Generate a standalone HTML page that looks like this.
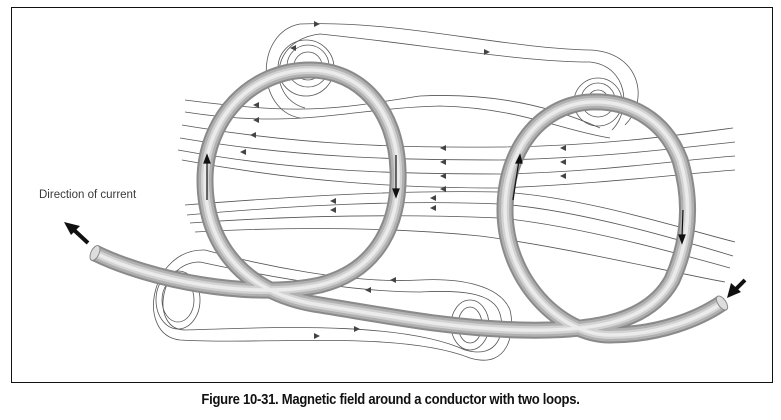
<!DOCTYPE html>
<html><head><meta charset="utf-8"><style>
html,body{margin:0;padding:0;background:#fff;}
body{width:781px;height:420px;overflow:hidden;position:relative;font-family:"Liberation Sans",sans-serif;}
.frame{position:absolute;left:11px;top:7px;width:760px;height:374px;border:1.5px solid #111;}
.cap{position:absolute;left:0;width:781px;top:392px;text-align:center;font-weight:bold;font-size:14.5px;color:#111;letter-spacing:-0.3px;transform:scaleX(0.9);}
.lbl{position:absolute;left:39px;top:189px;font-size:11.5px;color:#3a3a3a;}
</style></head><body>
<div class="frame"></div>
<div class="lbl">Direction of current</div>
<svg width="781" height="420" style="position:absolute;left:0;top:0">
<g fill="none" stroke="#555" stroke-width="0.8">
<path d="M300,118 C255,110 255,32 300,24 C400,20 500,48 590,50 C640,52 650,100 625,125"/>
<path d="M305,108 C268,98 268,40 320,34 C420,44 520,62 590,62 C628,66 632,110 612,130"/>
<circle cx="308" cy="66" r="14"/><circle cx="308" cy="66" r="21"/><circle cx="306" cy="68" r="28"/>
<circle cx="598" cy="100" r="10"/><circle cx="598" cy="100" r="17"/><circle cx="598" cy="102" r="24"/>
<path d="M185,100 C300,115 330,110 420,96 C500,92 560,110 600,128"/>
<path d="M185,112 C300,130 350,108 440,106 C520,108 560,130 610,138"/>
<path d="M182,125 C300,145 400,148 500,147 C600,146 680,135 733,128"/>
<path d="M180,138 C300,158 400,160 500,160 C600,158 680,148 735,142"/>
<path d="M178,150 C300,172 400,174 500,174 C600,172 680,160 735,156"/>
<path d="M182,160 C300,182 400,188 500,188 C600,184 680,174 735,170"/>
<path d="M185,205 C300,196 400,190 500,192 C580,196 680,228 735,242"/>
<path d="M187,215 C300,205 400,200 500,204 C580,210 680,240 733,256"/>
<path d="M190,223 C300,215 400,214 500,218 C580,226 680,254 730,268"/>
<path d="M195,232 C300,226 400,228 480,236 C560,246 660,270 725,282"/>
<path d="M205,250 C150,248 135,335 180,340 C260,345 400,330 470,358 C510,370 515,330 510,310 C500,285 460,278 420,280 C350,284 260,265 205,250"/>
<path d="M200,262 C158,262 150,330 185,330 C260,328 400,320 465,350 C500,360 505,330 500,314 C494,292 460,290 420,292 C350,292 260,275 200,262"/>
<ellipse cx="178" cy="300" rx="16" ry="22"/><ellipse cx="178" cy="300" rx="22" ry="29"/>
<ellipse cx="470" cy="325" rx="12" ry="18"/><ellipse cx="470" cy="325" rx="19" ry="25"/>
</g>
<g fill="#444">
<polygon points="253,105 259,102 259,108"/><polygon points="253,120 259,117 259,123"/><polygon points="250,135 256,132 256,138"/><polygon points="240,152 246,149 246,155"/>
<polygon points="440,148 446,145 446,151"/><polygon points="440,162 446,159 446,165"/><polygon points="440,176 446,173 446,179"/><polygon points="440,189 446,186 446,192"/>
<polygon points="560,148 566,145 566,151"/><polygon points="560,162 566,159 566,165"/><polygon points="560,176 566,173 566,179"/>
<polygon points="330,201 336,198 336,204"/><polygon points="330,210 336,207 336,213"/><polygon points="430,198 436,195 436,201"/><polygon points="430,208 436,205 436,211"/>
<polygon points="320,24 314,21 314,27"/><polygon points="490,52 484,49 484,55"/><polygon points="290,48 296,45 296,51"/>
<polygon points="360,329 354,326 354,332"/><polygon points="320,336 314,333 314,339"/><polygon points="390,280 396,277 396,283"/><polygon points="365,290 371,287 371,293"/>
</g>
<defs><path id="w" d="M95,253 C150,280 250,300 320,285 C380,270 400,220 398,170 C396,110 360,70 310,70 C250,70 205,120 205,180 C205,250 250,295 320,305 C400,318 450,328 520,330 C600,332 650,320 672,280 C690,240 692,200 680,160 C665,120 630,100 590,102 C540,105 505,150 505,210 C505,280 560,335 610,335 C660,335 700,318 722,303"/></defs>
<g fill="none">
<use href="#w" stroke="#8a8a8a" stroke-width="17"/>
<use href="#w" stroke="#b0b0b0" stroke-width="13"/>
<use href="#w" stroke="#d2d2d2" stroke-width="8"/>
<use href="#w" stroke="#ebebeb" stroke-width="3.5"/>
</g>
<ellipse cx="95" cy="253" rx="4" ry="8" transform="rotate(25 95 253)" fill="#ddd" stroke="#888"/>
<ellipse cx="722" cy="303" rx="4" ry="8" transform="rotate(-35 722 303)" fill="#ddd" stroke="#888"/>
<g stroke="#111" stroke-width="1.2" fill="#111">
<path d="M207,200 L207,160" fill="none"/><polygon points="207,155 204,163 210,163"/>
<path d="M396,155 L396,192" fill="none"/><polygon points="396,197 393,189 399,189"/>
<path d="M513,200 L519,160" fill="none"/><polygon points="520,155 516,163 522,163"/>
<path d="M683,210 L682,238" fill="none"/><polygon points="682,243 679,235 685,235"/>
</g>
<g fill="#111">
<line x1="88" y1="243" x2="74" y2="230" stroke="#111" stroke-width="4"/><polygon points="64,222 80,226 71,235"/>
<line x1="745" y1="280" x2="735" y2="290" stroke="#111" stroke-width="4"/><polygon points="727,298 731,283 741,292"/>
</g>
</svg>
<div class="cap">Figure 10-31. Magnetic field around a conductor with two loops.</div>
</body></html>
